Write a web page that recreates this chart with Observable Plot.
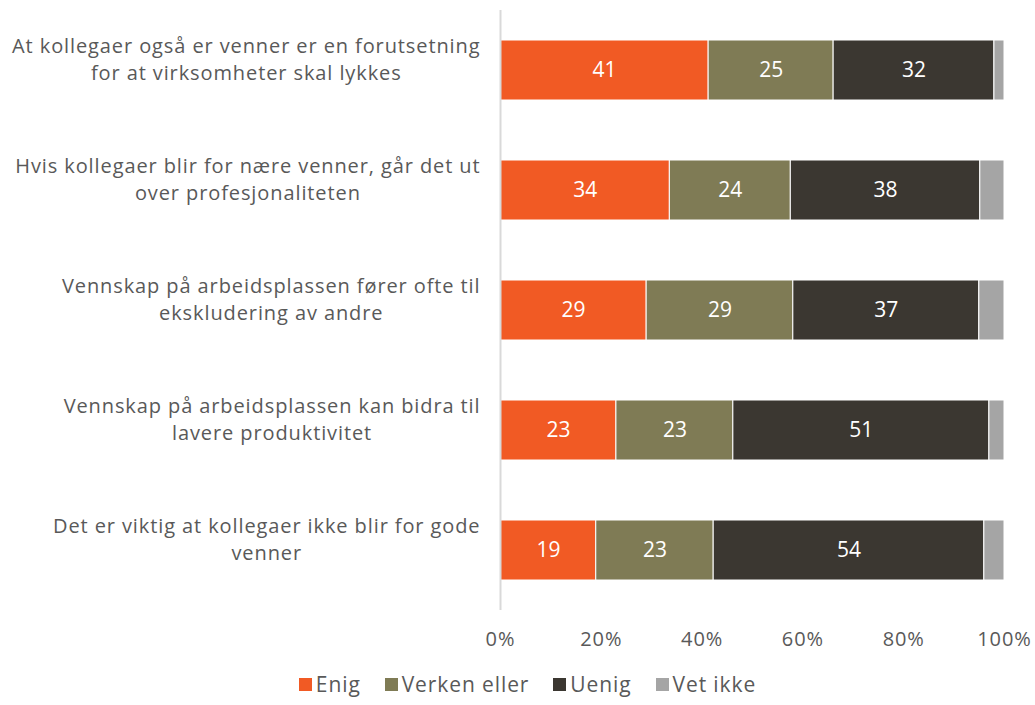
<!DOCTYPE html>
<html>
<head>
<meta charset="utf-8">
<script src="https://cdn.jsdelivr.net/npm/d3@7"></script>
<script src="https://cdn.jsdelivr.net/npm/@observablehq/plot@0.6"></script>
<style>
  body { margin: 0; background: #fff; font-family: "Open Sans", sans-serif; }
  #chart { width: 1035px; }
  .legend { display: flex; justify-content: center; gap: 24px; font-size: 21px; letter-spacing: 0.9px; color: #595959; margin-top: 10px; padding-left: 20px; }
  .legend span.item { display: inline-flex; align-items: center; }
  .legend span.sw { width: 13px; height: 13px; display: inline-block; margin-right: 4px; }
  svg g[aria-label="y-axis tick label"] text, svg g[aria-label="x-axis tick label"] text { letter-spacing: 0.9px; }
</style>
</head>
<body>
<div id="chart"></div>
<script>
const categories = [
  "At kollegaer også er venner er en forutsetning\nfor at virksomheter skal lykkes",
  "Hvis kollegaer blir for nære venner, går det ut\nover profesjonaliteten",
  "Vennskap på arbeidsplassen fører ofte til\nekskludering av andre",
  "Vennskap på arbeidsplassen kan bidra til\nlavere produktivitet",
  "Det er viktig at kollegaer ikke blir for gode\nvenner"
];
const seriesNames = ["Enig", "Verken eller", "Uenig", "Vet ikke"];
const enig = [41.3, 33.6, 29.0, 23.0, 19.0];
const verken = [24.8, 24.0, 29.1, 23.2, 23.3];
const uenig = [31.9, 37.6, 36.9, 50.8, 53.7];
const vetIkke = [2.0, 4.8, 5.0, 3.0, 4.0];
const colors = ["#F15A24", "#7F7B55", "#3B3731", "#A5A5A5"];
const xTicks = [0, 20, 40, 60, 80, 100];

const seriesValues = [enig, verken, uenig, vetIkke];
const data = [];
categories.forEach((c, i) => {
  seriesNames.forEach((s, j) => data.push({category: c, series: s, value: seriesValues[j][i]}));
});

const chart = Plot.plot({
  width: 1035,
  height: 660,
  marginLeft: 500,
  marginRight: 31,
  marginTop: 10,
  marginBottom: 50,
  style: {fontFamily: "'Open Sans', sans-serif", fontSize: "20px", color: "#595959", background: "#fff"},
  x: {domain: [0, 100], ticks: xTicks, tickFormat: d => d + "%", tickSize: 0, tickPadding: 21, label: null},
  y: {domain: categories, paddingInner: 0.5, paddingOuter: 0.25, tickSize: 0, tickPadding: 20, label: null},
  color: {domain: seriesNames, range: colors},
  marks: [
    Plot.barX(data, Plot.stackX({x: "value", y: "category", fill: "series", stroke: "white", strokeWidth: 1})),
    Plot.text(data, Plot.stackX({x: "value", y: "category", text: d => d.series === "Vet ikke" ? null : Math.round(d.value), fill: "white", fontSize: 21})),
    Plot.ruleX([0], {stroke: "#D9D9D9", strokeWidth: 2})
  ]
});
document.getElementById("chart").appendChild(chart);

// center wrapped lines within the right-aligned label block
d3.select(chart).selectAll("g[aria-label='y-axis tick label'] text").each(function() {
  const tspans = d3.select(this).selectAll("tspan");
  let maxW = 0;
  tspans.each(function() { maxW = Math.max(maxW, this.getComputedTextLength()); });
  d3.select(this).attr("text-anchor", "middle");
  const n = tspans.size();
  tspans.each(function(_, k) {
    d3.select(this).attr("x", -maxW / 2).attr("dy", k === 0 ? `${-(n - 1) * 0.675}em` : "1.35em");
  });
});

const legend = d3.select("body").append("div").attr("class", "legend");
seriesNames.forEach((s, i) => {
  const it = legend.append("span").attr("class", "item");
  it.append("span").attr("class", "sw").style("background", colors[i]);
  it.append("span").text(s);
});
</script>
</body>
</html>
